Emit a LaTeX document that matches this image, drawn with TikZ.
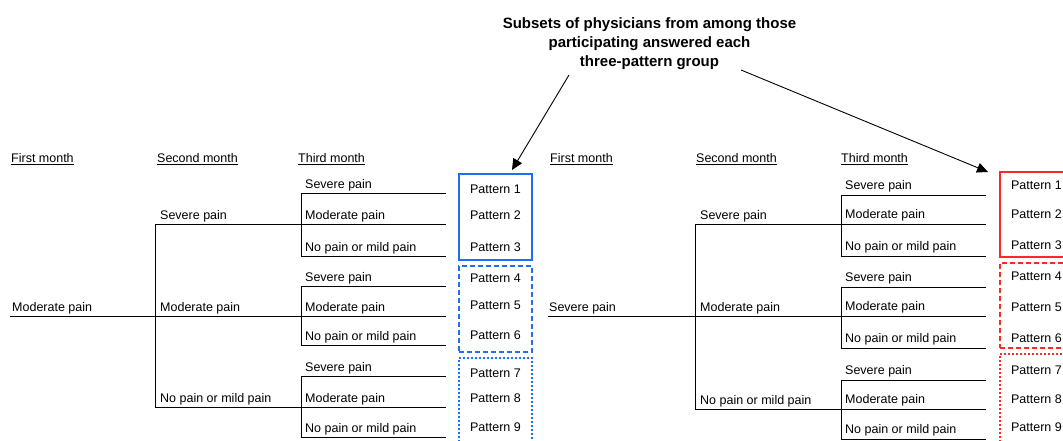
\documentclass[tikz,border=0pt]{standalone}
\usepackage{fontspec}
\setmainfont{Liberation Sans}
\usetikzlibrary{arrows.meta}
\definecolor{boxblue}{RGB}{30,110,245}
\definecolor{boxred}{RGB}{250,40,40}
\newcommand\txtfont{\fontsize{12.5}{15}\selectfont}
\newcommand\ttlfont{\fontsize{15}{19}\selectfont\bfseries}
\tikzset{
  lbl/.style={anchor=base west, inner sep=0pt, font=\txtfont},
  pat/.style={anchor=base, inner sep=0pt, font=\txtfont},
  tree/.style={line width=0.9pt, black},
  grp/.style={draw, line width=1.1pt, minimum width=73pt, inner sep=0pt},
  solidbox/.style={grp},
  dashbox/.style={grp, dash pattern=on 5pt off 3pt},
  dotbox/.style={grp, dash pattern=on 2pt off 2pt},
  pointer/.style={line width=0.9pt, -{Triangle[length=11pt,width=10pt]}}
}
\begin{document}
\begin{tikzpicture}[x=1pt,y=-1pt]
\useasboundingbox (0,0) rectangle (1063,441);
\clip (0,0) rectangle (1063,441);

% title
\node[anchor=north, inner sep=0pt, align=center, font=\ttlfont] (title) at (649.5,17)
  {Subsets of physicians from among those\\participating answered each\\three-pattern group};

% ---------------- left tree ----------------
\node[lbl] (lh1) at (11,162.5) {\underline{First month}};
\node[lbl] (lh2) at (157,162.5) {\underline{Second month}};
\node[lbl] (lh3) at (298,162.5) {\underline{Third month}};

\coordinate (L0) at (10,316);
\coordinate (L1) at (155,316);
\node[lbl] (lroot) at (12,311) {Moderate pain};
\foreach \g/\m/\t/\b/\lab in {a/224/193/256/Severe pain,b/316/286/345/Moderate pain,c/407/376/437/No pain or mild pain}{
  \coordinate (Lm\g) at (155,\m);
  \coordinate (Lj\g) at (301,\m);
  \coordinate (Lt\g) at (301,\t);
  \coordinate (Lb\g) at (301,\b);
  \coordinate (Let\g) at (446,\t);
  \coordinate (Lem\g) at (446,\m);
  \coordinate (Leb\g) at (446,\b);
  \node[lbl] (l2\g) at (160,\m-5) {\lab};
  \node[lbl] (l3\g1) at (305,\t-4.5) {Severe pain};
  \node[lbl] (l3\g2) at (305,\m-5) {Moderate pain};
  \node[lbl] (l3\g3) at (305,\b-5) {No pain or mild pain};
}
\draw[tree] (L0) -- (L1);
\draw[tree] (Lma) -- (Lmc);
\foreach \g in {a,b,c}{
  \draw[tree] (Lm\g) -- (Lj\g);
  \draw[tree] (Let\g) -- (Lt\g) -- (Lb\g) -- (Leb\g);
  \draw[tree] (Lj\g) -- (Lem\g);
}

% left boxes
\node[solidbox, draw=boxblue, minimum height=86pt] (lb1) at (495.5,217) {};
\node[dashbox, draw=boxblue, minimum height=86pt] (lb2) at (495.5,309) {};
\node[dotbox, draw=boxblue, minimum height=92pt] (lb3) at (495.5,404) {};
\foreach \n/\y in {1/193.5,2/219.5,3/251.5,4/282.5,5/309.5,6/339.5,7/377.5,8/402.5,9/431.5}{
  \node[pat] (lp\n) at (495.5,\y) {Pattern \n};
}

% ---------------- right tree ----------------
\node[lbl] (rh1) at (550,162.5) {\underline{First month}};
\node[lbl] (rh2) at (696,162.5) {\underline{Second month}};
\node[lbl] (rh3) at (841,162.5) {\underline{Third month}};

\coordinate (R0) at (548,316);
\coordinate (R1) at (695,316);
\node[lbl] (rroot) at (549,311) {Severe pain};
\foreach \g/\m/\t/\b/\lab in {a/224/195/256/Severe pain,b/316/287/348/Moderate pain,c/409/380/439/No pain or mild pain}{
  \coordinate (Rm\g) at (695,\m);
  \coordinate (Rj\g) at (841,\m);
  \coordinate (Rt\g) at (841,\t);
  \coordinate (Rb\g) at (841,\b);
  \coordinate (Ret\g) at (986,\t);
  \coordinate (Rem\g) at (986,\m);
  \coordinate (Reb\g) at (986,\b);
  \node[lbl] (r2\g) at (700,\m-5) {\lab};
  \node[lbl] (r3\g1) at (845,\t-5.5) {Severe pain};
  \node[lbl] (r3\g2) at (845,\m-5.5) {Moderate pain};
  \node[lbl] (r3\g3) at (845,\b-5.5) {No pain or mild pain};
}
\draw[tree] (R0) -- (R1);
\draw[tree] (Rma) -- (Rmc);
\foreach \g in {a,b,c}{
  \draw[tree] (Rm\g) -- (Rj\g);
  \draw[tree] (Ret\g) -- (Rt\g) -- (Rb\g) -- (Reb\g);
  \draw[tree] (Rj\g) -- (Rem\g);
}

% right boxes
\node[solidbox, draw=boxred, minimum height=85pt] (rb1) at (1036.5,214.5) {};
\node[dashbox, draw=boxred, minimum height=85pt] (rb2) at (1036.5,305.5) {};
\node[dotbox, draw=boxred, minimum height=96pt] (rb3) at (1036.5,402) {};
\foreach \n/\y in {1/189.5,2/218.5,3/249.5,4/280.5,5/311.5,6/342.5,7/374.5,8/403.5,9/431.5}{
  \node[pat] (rp\n) at (1036.5,\y) {Pattern \n};
}

% pointers
\coordinate (sa) at (569,75);
\coordinate (ta) at (512,170);
\coordinate (sb) at (741,70);
\coordinate (tb) at (988,172);
\draw[pointer] (sa) -- (ta);
\draw[pointer] (sb) -- (tb);
\end{tikzpicture}
\end{document}
